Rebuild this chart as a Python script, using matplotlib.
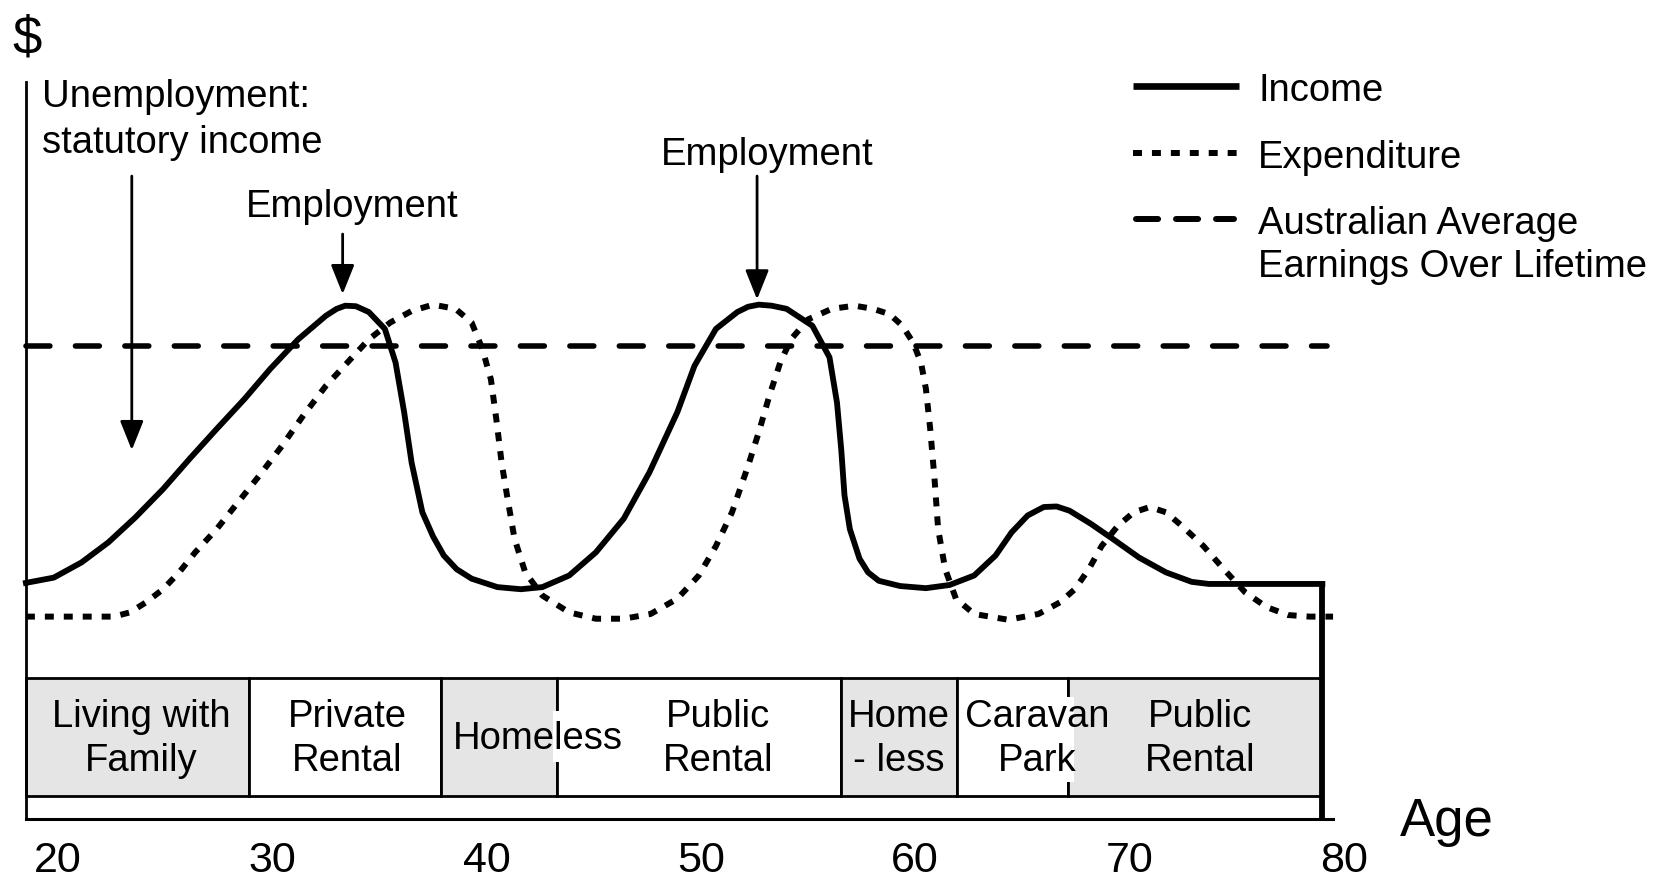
import matplotlib.pyplot as plt

plt.rcParams['font.family'] = 'Liberation Sans'

# ---------------- data (age, arbitrary $ level)
income_age = [18.5, 19.8, 21.1, 22.35, 23.6, 24.9, 26.15, 27.4, 28.7, 29.9, 31.2, 32.5, 33.0, 33.4,
              33.9, 34.5, 35.25, 35.75, 36.15, 36.5, 37.0, 37.5, 38.0, 38.6, 39.3, 40.5, 41.6, 42.6,
              43.85, 45.1, 46.4, 47.6, 48.9, 49.7, 50.7, 51.7, 52.2, 52.7, 53.3, 54.0, 55.2, 56.0,
              56.35, 56.55, 56.7, 56.95, 57.4, 57.8, 58.3, 59.3, 60.5, 61.6, 62.75, 63.75, 64.5,
              65.25, 66.0, 66.6, 67.2, 68.2, 69.2, 70.45, 71.7, 72.9, 73.7, 79.0]
income_val = [22.4, 22.9, 24.35, 26.25, 28.6, 31.3, 34.2, 37.0, 39.85, 42.7, 45.5, 47.75, 48.4, 48.7,
              48.65, 48.1, 46.5, 43.3, 38.6, 33.8, 29.1, 26.8, 25.0, 23.7, 22.8, 22.0, 21.8, 22.0,
              23.1, 25.3, 28.5, 32.9, 38.6, 43.0, 46.5, 48.1, 48.6, 48.8, 48.7, 48.4, 46.8, 43.8,
              39.5, 35.0, 30.7, 27.5, 24.7, 23.4, 22.6, 22.1, 21.9, 22.2, 23.1, 25.0, 27.2,
              28.8, 29.6, 29.65, 29.25, 28.0, 26.6, 24.8, 23.4, 22.5, 22.3, 22.3]

exp_age = [18.5, 22.6, 23.35, 24.1, 24.9, 25.65, 26.4, 27.4, 28.4, 29.4, 30.45, 31.45, 32.5, 33.5,
           34.5, 35.5, 36.5, 37.5, 38.55, 39.3, 39.8, 40.2, 40.45, 40.7, 40.95, 41.3, 41.8, 42.6,
           43.85, 45.1, 46.4, 47.65, 48.9, 49.9, 50.7, 51.45, 52.2, 52.7, 53.2, 53.7, 54.2, 55.0,
           56.1, 57.17, 58.04, 58.8, 59.4, 59.9, 60.27, 60.5, 60.7, 60.9, 61.07, 61.4, 61.9,
           62.75, 64.35, 65.75, 66.75, 67.45, 68.1, 68.7, 69.45, 70.2, 70.95, 71.7, 72.45,
           73.45, 74.4, 75.4, 76.4, 77.4, 78.4, 79.5]
exp_val = [19.2, 19.2, 19.6, 20.55, 21.8, 23.4, 25.3, 27.5, 30.05, 32.6, 35.4, 38.3, 41.1, 43.3,
           45.5, 47.1, 48.2, 48.8, 48.4, 47.1, 44.6, 41.7, 37.95, 33.8, 30.7, 26.6, 23.4, 21.2,
           19.6, 19.0, 19.0, 19.45, 20.9, 23.1, 25.9, 29.1, 33.5, 36.7, 40.2, 43.3, 45.5, 47.4,
           48.4, 48.7, 48.4, 47.9, 46.8, 45.2, 43.3, 40.8, 37.0, 32.3, 27.5, 23.7, 20.9,
           19.45, 18.9, 19.45, 20.55, 21.8, 23.7, 25.9, 27.8, 29.1, 29.6, 29.1, 27.8,
           25.9, 23.7, 21.5, 20.1, 19.35, 19.2, 19.2]

avg_earnings = 44.9
avg_age = [18.5, 79.2]

housing_labels = ['Living with\nFamily', 'Private\nRental', 'Homeless', 'Public\nRental',
                  'Home\n- less', 'Caravan\nPark', 'Public\nRental']
housing_start = [18.5, 28.9, 37.85, 43.3, 56.55, 61.95, 67.15]
housing_end = [28.9, 37.85, 43.3, 56.55, 61.95, 67.15, 79.0]
housing_shaded = [True, False, True, False, True, False, True]
housing_text_x = [23.87, 33.48, 42.4, 50.8, 59.22, 65.7, 73.3]

age_ticks = [20, 30, 40, 50, 60, 70, 80]

FS = 27.5

# ---------------- figura
fig = plt.figure(figsize=(16.53, 8.79), dpi=100, facecolor='w')
ax = fig.add_axes([0, 0, 1, 1])
ax.set_xlim(17.29, 94.43)
ax.set_ylim(-5.6, 77.8)

for s in ('top', 'right'):
    ax.spines[s].set_visible(False)
ax.spines['left'].set_position(('data', 18.5))
ax.spines['left'].set_bounds(0, 69.9)
ax.spines['bottom'].set_position(('data', 0))
ax.spines['bottom'].set_bounds(18.5, 79.5)
ax.spines['left'].set_linewidth(2)
ax.spines['bottom'].set_linewidth(2.2)
ax.set_yticks([])
ax.set_xticks(age_ticks)
ax.set_xticklabels([str(a) for a in age_ticks])
ax.tick_params(axis='x', length=0, pad=15, labelsize=31)

# housing band
band_bottom, band_top = 2.2, 13.4
widths = [e - s for s, e in zip(housing_start, housing_end)]
colors = ['#e5e5e5' if sh else 'white' for sh in housing_shaded]
ax.bar(housing_start, [band_top - band_bottom] * len(widths), width=widths, bottom=band_bottom,
       align='edge', color=colors, edgecolor='black', linewidth=2, zorder=1)
# white gaps in the cell borders behind "Homeless" and "Caravan Park"
ax.bar([43.1, 67.0], [4.8, 8.1], width=[0.45, 0.42], bottom=[5.4, 3.5], align='edge',
       color='white', linewidth=0, zorder=1.5)
for lab, x in zip(housing_labels, housing_text_x):
    ax.text(x, 7.7, lab, ha='center', va='center', fontsize=FS, linespacing=1.27, zorder=3)

# curves
ax.plot(avg_age, [avg_earnings] * 2, color='black', lw=4.0, ls=(0, (4.3, 4.6)),
        dash_capstyle='round', zorder=2)
ax.plot(exp_age, exp_val, color='black', lw=4.3, ls=(0, (1.5, 1.67)), zorder=2)
ax.plot(income_age, income_val, color='black', lw=4.2, solid_joinstyle='round', zorder=4)
ax.vlines(income_age[-1], 0, income_val[-1], color='black', lw=4.2, zorder=4)

# annotations
arrow = dict(arrowstyle='-|>,head_length=0.9,head_width=0.36', mutation_scale=20,
             color='black', lw=2, shrinkA=0, shrinkB=0)
ax.annotate('', xy=(23.44, 35.0), xytext=(23.44, 61.0), arrowprops=arrow)
ax.annotate('', xy=(33.28, 49.8), xytext=(33.28, 55.5), arrowprops=arrow)
ax.annotate('', xy=(52.62, 49.3), xytext=(52.62, 61.0), arrowprops=arrow)
ax.text(19.24, 67.65, 'Unemployment:', fontsize=FS, va='baseline')
ax.text(19.24, 63.28, 'statutory income', fontsize=FS, va='baseline')
ax.text(33.74, 57.2, 'Employment', fontsize=FS, ha='center', va='baseline')
ax.text(53.1, 62.1, 'Employment', fontsize=FS, ha='center', va='baseline')

ax.text(18.54, 72.7, '$', fontsize=38, ha='center', va='baseline')
ax.text(84.8, -1.5, 'Age', fontsize=38, ha='center', va='baseline')

# legend (manual, figure fractions)
W, H = 1653.0, 879.0
lx = [1132.5 / W, 1239.0 / W]
ax.plot(lx, [1 - 86.7 / H] * 2, transform=ax.transAxes, color='black', lw=4.8,
        solid_capstyle='butt')
ax.plot(lx, [1 - 153.7 / H] * 2, transform=ax.transAxes, color='black', lw=4.3,
        ls=(0, (1.5, 1.67)))
ax.plot([1136 / W, 1234 / W], [1 - 220 / H] * 2, transform=ax.transAxes, color='black', lw=4.3,
        ls=(0, (3.7, 3.0)), dash_capstyle='round')
legend_text = [('Income', 100.6), ('Expenditure', 168.0), ('Australian Average', 234.0),
               ('Earnings Over Lifetime', 277.0)]
for t, yb in legend_text:
    ax.text(1258 / W, 1 - yb / H, t, transform=ax.transAxes, fontsize=FS, va='baseline')

plt.savefig('out.png', dpi=100)
